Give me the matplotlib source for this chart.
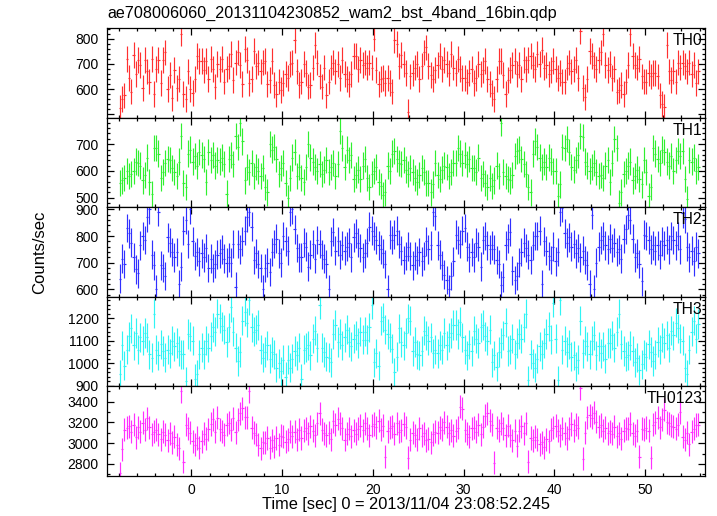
import numpy as np
import matplotlib
matplotlib.use('Agg')
import matplotlib.pyplot as plt
from matplotlib.ticker import MultipleLocator, FuncFormatter

plt.rcParams['font.family'] = ['Liberation Sans', 'DejaVu Sans']

title = "ae708006060_20131104230852_wam2_bst_4band_16bin.qdp"
xlabel = "Time [sec] 0 = 2013/11/04 23:08:52.245"
ylabel = "Counts/sec"

t_start = -8.0
bin_width = 0.25

th0 = [
    525, 560, 575, 720, 645, 590, 735, 660, 715, 695, 605, 715, 670, 630, 720, 580,
    680, 715, 625, 715, 745, 600, 655, 565, 675, 605, 640, 820, 580, 560, 670, 600,
    585, 640, 730, 710, 710, 675, 710, 640, 720, 680, 610, 700, 680, 720, 630, 680,
    690, 740, 635, 705, 745, 695, 620, 760, 715, 625, 640, 750, 690, 705, 670, 705,
    710, 620, 635, 710, 615, 580, 630, 595, 625, 660, 645, 700, 705, 795, 670, 615,
    630, 700, 665, 610, 615, 685, 775, 705, 650, 610, 685, 575, 630, 685, 705, 670,
    700, 645, 715, 660, 640, 620, 660, 730, 730, 680, 715, 695, 705, 685, 705, 685,
    800, 675, 620, 640, 645, 625, 645, 625, 590, 795, 780, 690, 735, 700, 665, 510,
    650, 665, 685, 700, 640, 690, 745, 765, 690, 655, 640, 675, 695, 730, 680, 715,
    700, 665, 740, 685, 665, 720, 680, 645, 645, 630, 665, 680, 625, 645, 700, 660,
    675, 710, 640, 620, 585, 560, 640, 710, 710, 655, 580, 635, 675, 695, 710, 660,
    695, 640, 715, 680, 715, 730, 695, 680, 740, 700, 755, 685, 695, 660, 675, 710,
    680, 645, 665, 630, 630, 685, 705, 670, 680, 715, 645, 830, 605, 570, 640, 750,
    730, 695, 680, 715, 745, 820, 695, 675, 700, 645, 680, 590, 595, 615, 580, 630,
    695, 820, 730, 695, 685, 720, 650, 630, 630, 665, 650, 665, 665, 650, 575, 540,
    530, 775, 670, 635, 670, 630, 705, 685, 705, 690, 670, 705, 660, 695, 625, 670,
]

th1 = [
    555, 565, 575, 600, 580, 590, 600, 635, 630, 620, 565, 585, 650, 560, 515, 685,
    685, 665, 575, 595, 630, 645, 640, 610, 595, 580, 635, 730, 555, 540, 665, 680,
    635, 655, 620, 670, 660, 645, 560, 670, 640, 660, 620, 640, 635, 650, 625, 516,
    645, 660, 625, 730, 690, 780, 710, 565, 615, 595, 630, 580, 615, 600, 580, 610,
    540, 520, 700, 680, 690, 645, 590, 610, 630, 555, 500, 575, 650, 670, 580, 615,
    575, 560, 615, 700, 650, 635, 615, 600, 625, 590, 605, 640, 595, 615, 630, 580,
    625, 750, 685, 615, 680, 640, 660, 570, 585, 605, 570, 620, 645, 575, 540, 590,
    600, 615, 560, 545, 510, 520, 620, 600, 665, 675, 645, 630, 625, 640, 605, 590,
    610, 595, 575, 560, 585, 610, 595, 555, 555, 520, 550, 630, 585, 570, 605, 620,
    615, 580, 595, 630, 630, 685, 665, 630, 660, 625, 645, 610, 610, 595, 650, 575,
    590, 555, 540, 575, 545, 565, 620, 580, 780, 595, 580, 570, 565, 585, 655, 675,
    680, 645, 625, 590, 540, 520, 665, 710, 690, 650, 615, 635, 615, 650, 635, 600,
    600, 505, 550, 690, 685, 720, 670, 615, 605, 640, 660, 730, 725, 635, 620, 600,
    615, 630, 595, 580, 585, 575, 620, 640, 560, 630, 720, 685, 480, 520, 590, 600,
    620, 635, 565, 580, 605, 570, 550, 640, 595, 505, 540, 685, 665, 645, 630, 680,
    670, 635, 620, 655, 600, 640, 675, 655, 675, 570, 495, 640, 635, 650, 600, 615,
]

th2 = [
    640, 715, 695, 830, 810, 775, 720, 675, 660, 765, 800, 785, 870, 900, 730, 690,
    600, 890, 690, 680, 650, 795, 775, 740, 720, 740, 620, 685, 820, 860, 770, 900,
    780, 725, 740, 705, 735, 720, 755, 680, 715, 680, 695, 730, 735, 750, 715, 700,
    720, 700, 770, 610, 770, 750, 780, 820, 870, 890, 835, 710, 735, 695, 680, 600,
    680, 700, 665, 740, 770, 790, 735, 700, 800, 780, 745, 890, 900, 825, 755, 720,
    720, 775, 760, 685, 730, 770, 715, 785, 770, 730, 715, 695, 600, 780, 815, 745,
    780, 730, 765, 745, 760, 775, 720, 795, 810, 775, 755, 720, 735, 775, 835, 820,
    800, 785, 765, 750, 735, 695, 600, 805, 785, 805, 820, 770, 745, 710, 725, 760,
    725, 690, 725, 710, 740, 705, 725, 780, 750, 765, 890, 875, 765, 730, 690, 655,
    635, 600, 650, 705, 805, 785, 770, 820, 830, 760, 720, 740, 720, 775, 760, 685,
    785, 800, 765, 750, 765, 750, 710, 695, 615, 645, 765, 790, 815, 670, 635, 650,
    700, 740, 775, 755, 730, 710, 765, 800, 800, 820, 620, 780, 745, 725, 710, 760,
    705, 740, 890, 905, 810, 775, 795, 760, 770, 735, 755, 720, 745, 710, 690, 620,
    880, 600, 700, 760, 785, 800, 765, 750, 790, 755, 775, 740, 750, 715, 790, 825,
    880, 860, 790, 720, 735, 695, 630, 805, 800, 785, 750, 765, 745, 765, 730, 780,
    765, 785, 750, 800, 785, 765, 800, 750, 885, 865, 760, 720, 745, 705, 760, 735,
]

th3 = [
    950, 1080, 990, 1060, 1120, 1155, 1080, 1135, 1060, 1115, 1100, 1135, 1115, 1040, 1025, 1220,
    1060, 1035, 1085, 1055, 1025, 1060, 1045, 1100, 1075, 1090, 1055, 1040, 1040, 920, 1130, 1120,
    1100, 930, 950, 1040, 1070, 1040, 1100, 1070, 1120, 1160, 1140, 1220, 1200, 1165, 1150, 1095,
    1160, 1250, 1140, 1070, 1010, 1050, 1190, 1230, 1180, 1280, 1160, 1140, 1150, 1170, 1060, 1025,
    1050, 1080, 1020, 1050, 1040, 980, 1000, 965, 1015, 940, 1015, 980, 1020, 1055, 1035, 1070,
    930, 1060, 1070, 1080, 1035, 1110, 1145, 1070, 1260, 1070, 1050, 1030, 1025, 1005, 1130, 1170,
    1095, 1130, 1080, 1115, 1150, 1095, 1075, 1110, 1125, 1090, 1140, 1105, 1140, 1105, 1160, 1260,
    1005, 1045, 990, 1190, 1205, 1150, 1130, 1115, 1065, 960, 1030, 1155, 1095, 1080, 1135, 1200,
    1190, 1055, 1095, 1040, 1035, 1055, 1145, 1125, 1100, 1115, 1045, 1060, 1045, 1080, 1060, 1135,
    1080, 1115, 1135, 1170, 1170, 1130, 1185, 1115, 1060, 1035, 1085, 1055, 1145, 1110, 1090, 1160,
    1170, 1120, 1100, 1150, 1005, 1035, 985, 1050, 1090, 1125, 1180, 1055, 1060, 1110, 1040, 1090,
    1130, 1110, 1160, 1220, 925, 1040, 1000, 980, 1020, 1075, 1040, 1090, 1130, 1165, 1105, 1270,
    1110, 925, 1280, 1060, 1100, 1050, 1085, 1030, 1035, 985, 1015, 1190, 1045, 1100, 1075, 1040,
    1100, 1125, 1035, 1075, 1045, 1075, 1020, 1090, 1090, 1125, 1070, 1140, 1220, 1085, 1055, 1030,
    1035, 1080, 1055, 1005, 1025, 970, 995, 1040, 1030, 1085, 1050, 1010, 1040, 1095, 1060, 1115,
    1090, 1125, 1070, 1145, 1125, 1180, 1155, 1110, 1100, 980, 950, 1060, 1140, 1190, 1110, 1175,
]

th0123 = [
    2710, 2940, 3130, 3150, 3165, 3110, 3180, 3055, 3155, 3110, 3195, 3130, 3240, 3155, 3085, 3110,
    3130, 3085, 3040, 3110, 3080, 3030, 3095, 3005, 3060, 2985, 2950, 3500, 2820, 3180, 3145, 3100,
    3020, 2985, 3050, 2955, 3020, 3090, 3045, 3135, 3185, 3230, 3110, 3245, 3135, 3110, 3080, 3180,
    3195, 3130, 3240, 3105, 3225, 3290, 3335, 3250, 3250, 3500, 3150, 3100, 3080, 2985, 2950, 3010,
    3005, 3050, 2955, 3030, 2965, 3050, 2985, 3070, 3060, 3015, 3040, 3110, 3065, 3110, 3040, 3130,
    3050, 3120, 3145, 3095, 3165, 3120, 3075, 3190, 3290, 3130, 3095, 3075, 3100, 3040, 3210, 3180,
    3235, 3190, 3145, 3035, 3090, 3140, 3065, 3125, 3090, 3140, 3170, 3125, 3190, 3145, 3075, 3170,
    3185, 3155, 3215, 3130, 3170, 2870, 3115, 3150, 3165, 3090, 3190, 3110, 3125, 3185, 3155, 2860,
    3035, 3100, 3075, 3040, 3145, 3070, 3095, 3030, 3045, 3010, 3085, 3110, 3100, 3155, 3130, 3200,
    3160, 3095, 3125, 3070, 3120, 3150, 3350, 3330, 3125, 3090, 3060, 3145, 3150, 3110, 3180, 3085,
    3160, 3265, 3290, 3215, 3180, 2810, 3150, 3120, 3190, 3145, 3075, 3170, 3075, 3030, 3120, 2975,
    3120, 3165, 3095, 3190, 2820, 3050, 3030, 3060, 3035, 2990, 3010, 2960, 3040, 3020, 3130, 3150,
    3170, 3120, 3075, 3145, 3095, 3050, 3140, 3185, 3125, 3180, 3150, 3530, 2850, 3100, 3250, 3270,
    3245, 3295, 3205, 3160, 3175, 3120, 3150, 3095, 3115, 3090, 3160, 3065, 3095, 3045, 3120, 3145,
    3140, 3185, 3095, 3070, 3120, 2870, 3140, 3130, 3150, 3120, 2860, 3180, 3200, 3245, 3155, 3230,
    3320, 3200, 3190, 3170, 3160, 3140, 3180, 3300, 3060, 3035, 3100, 2990, 3110, 3140, 3175, 3180,
]

names = ["TH0", "TH1", "TH2", "TH3", "TH0123"]
series = [th0, th1, th2, th3, th0123]
errors = [51, 49, 54, 65, 111]
colors = ["#ff3030", "#30f030", "#3030ff", "#30f4f4", "#ff30ff"]
ylims = [(487, 842), (465, 799), (572, 908), (897, 1296), (2684, 3547)]
labeled = [[600, 700, 800], [500, 600, 700, 800], [600, 700, 800, 900],
           [900, 1000, 1100, 1200], [2800, 3000, 3200, 3400]]
majors = [100, 100, 100, 100, 200]
minors = [20, 20, 20, 20, 100]

W, H = 717, 516
fig = plt.figure(figsize=(W / 100, H / 100), dpi=100)
left = 107 / W
width = (705 - 107) / W
bot = (H - 476) / H
ph = (476 - 28) / 5 / H

for k in range(5):
    ax = fig.add_axes([left, bot + (4 - k) * ph, width, ph])
    y = np.array(series[k], dtype=float)
    t = t_start + bin_width * (np.arange(len(y)) + 0.5)
    ax.errorbar(t, y, xerr=bin_width / 2, yerr=errors[k], fmt='none',
                ecolor=colors[k], elinewidth=0.85, capsize=0)
    ax.set_xlim(-9.3, 56.6)
    ax.set_ylim(*ylims[k])
    ax.xaxis.set_major_locator(MultipleLocator(10))
    ax.xaxis.set_minor_locator(MultipleLocator(2))
    ax.yaxis.set_major_locator(MultipleLocator(majors[k]))
    ax.yaxis.set_minor_locator(MultipleLocator(minors[k]))
    labs = labeled[k]
    ax.yaxis.set_major_formatter(FuncFormatter(
        lambda v, p, labs=labs: ("%d" % round(v)) if round(v) in labs else ""))
    ax.tick_params(which='both', direction='in', top=True, right=True,
                   width=0.9, labelsize=10, color='black')
    ax.tick_params(which='major', length=5)
    ax.tick_params(which='minor', length=2.5)
    ax.tick_params(axis='y', pad=6)
    ax.tick_params(axis='x', pad=5)
    if k < 4:
        ax.tick_params(axis='x', labelbottom=False)
    for s in ax.spines.values():
        s.set_linewidth(0.9)
    ax.text(0.996, 0.945, names[k], transform=ax.transAxes, ha='right', va='top',
            fontsize=11.3)

fig.text(107 / W, 1 - 13 / H, title, ha='left', va='center', fontsize=11.6)
fig.text(40 / W, 1 - 252 / H, ylabel, rotation=90, ha='center', va='center', fontsize=12)
fig.text(406 / W, 1 - 504 / H, xlabel, ha='center', va='center', fontsize=11.8)

fig.savefig("out.png", dpi=100)
